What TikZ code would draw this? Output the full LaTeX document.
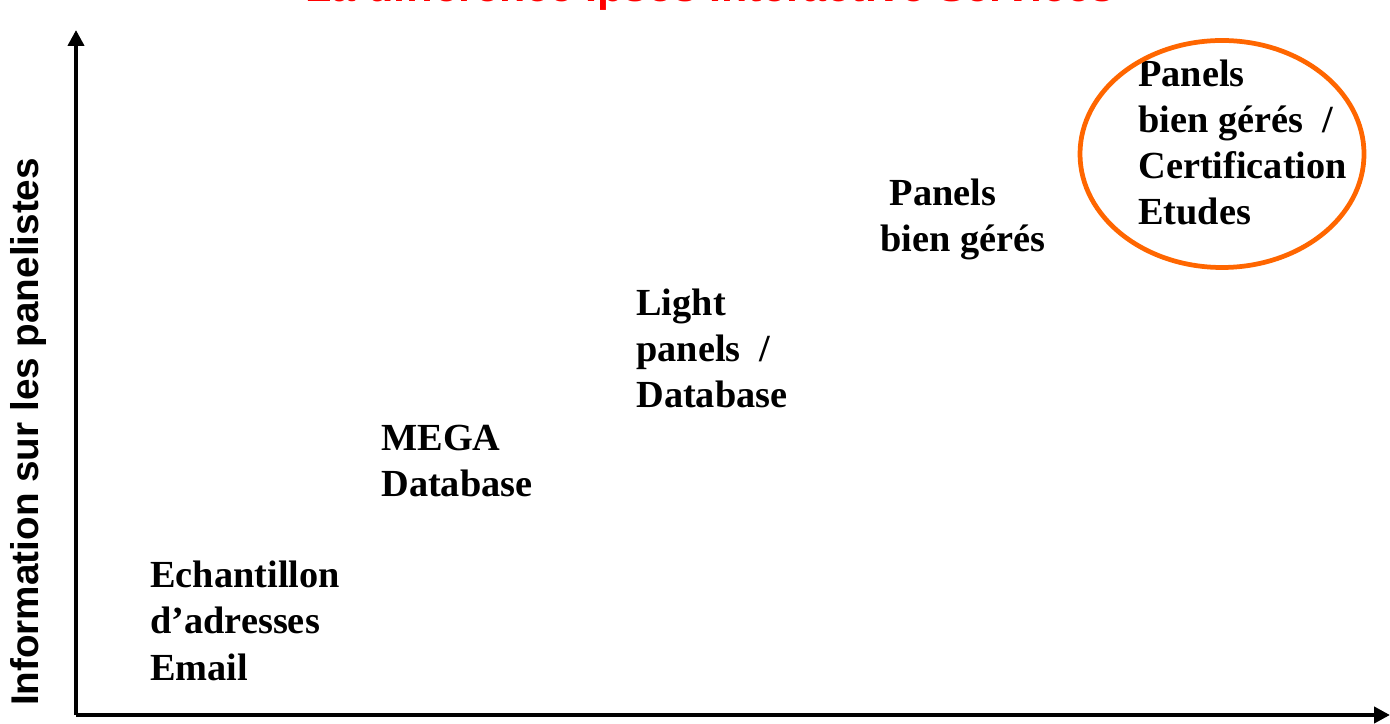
\documentclass[tikz,border=0pt]{standalone}
\usepackage{fontspec}
\setmainfont{Liberation Serif}
\setsansfont{Liberation Sans}
\usetikzlibrary{arrows.meta}
\definecolor{ipsosorange}{RGB}{255,102,0}

\tikzset{
    lbl/.style={anchor=base west, inner sep=0pt, align=left,
        font=\bfseries\fontsize{21.8}{26.2}\selectfont},
    axis/.style={line width=2.3pt, -{Triangle[length=0.32cm,width=0.32cm]}}
}

\begin{document}
\begin{tikzpicture}
    \useasboundingbox (0,0) rectangle (27.8,14.46);
    \clip (0,0) rectangle (27.8,14.46);

    % title, cut at the top
    \node[anchor=base west, inner sep=0pt, text=red,
        font=\sffamily\bfseries\fontsize{24.5}{29}\selectfont]
        (title) at (6.1,14.42) {La différence Ipsos Interactive Services};

    % axes
    \coordinate (o) at (1.52,0.16);
    \coordinate (ytip) at (1.52,13.86);
    \coordinate (xtip) at (27.8,0.16);
    \draw[axis] (o) -- (ytip);
    \draw[axis] (o) -- (xtip);

    \node[rotate=90, inner sep=0pt,
        font=\sffamily\bfseries\fontsize{22}{26}\selectfont]
        (ylabel) at (0.58,5.82) {Information sur les panelistes};

    % steps (anchored at the baseline of the last line)
    \node[lbl] (email) at (3.0,0.86) {Echantillon\\d’adresses\\Email};
    \node[lbl] (mega) at (7.62,4.52) {MEGA\\Database};
    \node[lbl] (light) at (12.72,6.30) {Light\\panels~~/\\Database};
    \node[lbl] (bien) at (17.6,9.42) {~Panels\\bien gérés};
    \node[lbl] (certif) at (22.76,9.96) {Panels\\bien gérés~~/\\Certification\\Etudes};

    \draw[ipsosorange, line width=2.7pt] (24.44,11.38) ellipse (2.84cm and 2.27cm);
\end{tikzpicture}
\end{document}
